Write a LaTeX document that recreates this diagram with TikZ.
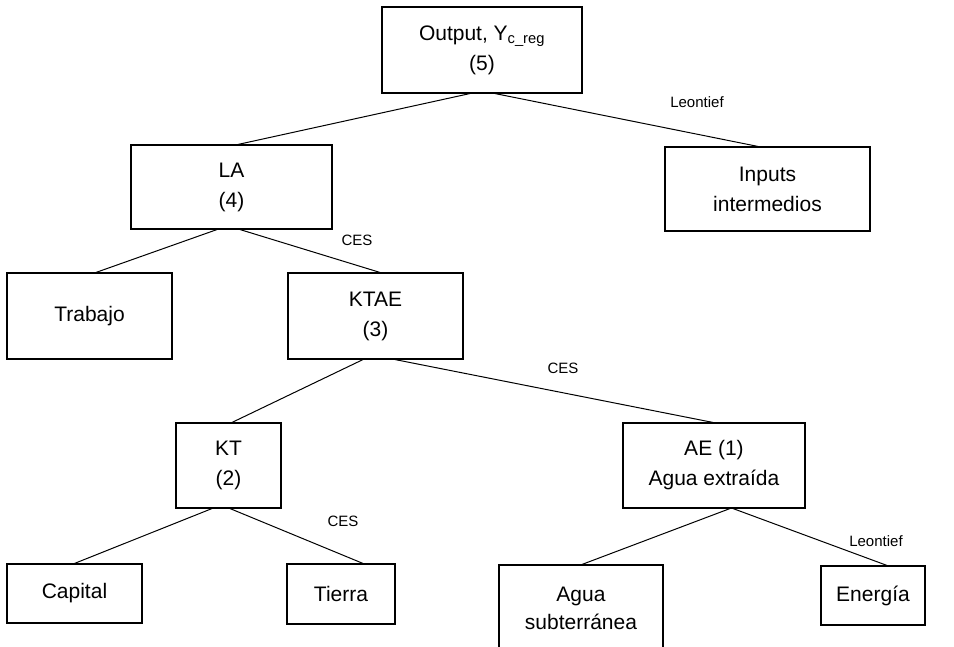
\documentclass[tikz,border=0pt]{standalone}
\usepackage{fontspec}
\setmainfont{Liberation Sans}
\begin{document}
\begin{tikzpicture}[x=1pt,y=-1pt,
  box/.style={draw, line width=1.1pt, rectangle, inner sep=0pt, align=center, font=\fontsize{21}{30}\selectfont},
  link/.style={draw, line width=1pt},
  lab/.style={font=\fontsize{15}{17}\selectfont, inner sep=0pt}]
\useasboundingbox (0,0) rectangle (954,647);
\clip (0,0) rectangle (954,647);
\fill[white] (0,0) rectangle (954,647);
\node[box, minimum width=200pt, minimum height=86pt] (out) at (482,50) {Output, Y\textsubscript{c\_reg}\\(5)};
\node[box, minimum width=201pt, minimum height=84pt] (la) at (231.5,187) {LA\\(4)};
\node[box, minimum width=205pt, minimum height=84pt] (inp) at (767.5,189) {Inputs\\intermedios};
\node[box, minimum width=165pt, minimum height=86pt] (trab) at (89.5,316) {Trabajo};
\node[box, minimum width=175pt, minimum height=86pt] (ktae) at (375.5,316) {KTAE\\(3)};
\node[box, minimum width=105pt, minimum height=85pt] (kt) at (228.5,465.5) {KT\\(2)};
\node[box, minimum width=182pt, minimum height=85pt] (ae) at (714,465.5) {AE (1)\\Agua extraída};
\node[box, minimum width=135pt, minimum height=59pt] (cap) at (74.5,593.5) {Capital};
\node[box, minimum width=108pt, minimum height=60pt] (tie) at (341,594) {Tierra};
\node[box, minimum width=164pt, minimum height=110pt] (agua) at (581,620) {};
\node[font=\fontsize{21}{28}\selectfont, align=center, inner sep=0pt] (agualab) at (581,608) {Agua\\subterránea};
\node[box, minimum width=104pt, minimum height=59pt] (ene) at (873,595.5) {Energía};
\draw[link] ([xshift=-12pt]out.south) -- ([xshift=6.5pt]la.north);
\draw[link] ([xshift=13pt]out.south) -- ([xshift=-9.5pt]inp.north);
\draw[link] ([xshift=-14.5pt]la.south) -- ([xshift=6.5pt]trab.north);
\draw[link] ([xshift=8.5pt]la.south) -- ([xshift=4.5pt]ktae.north);
\draw[link] ([xshift=-12.5pt]ktae.south) -- ([xshift=3.5pt]kt.north);
\draw[link] ([xshift=19.5pt]ktae.south) -- ([xshift=-1pt]ae.north);
\draw[link] ([xshift=-16.5pt]kt.south) -- (cap.north);
\draw[link] ([xshift=1.5pt]kt.south) -- ([xshift=22pt]tie.north);
\draw[link] ([xshift=16pt]ae.south) -- ([xshift=1pt]agua.north);
\draw[link] ([xshift=19pt]ae.south) -- ([xshift=14pt]ene.north);
\node[lab] (l1) at (697,102) {Leontief};
\node[lab] (c1) at (357,240) {CES};
\node[lab] (c2) at (563,368) {CES};
\node[lab] (c3) at (343,521) {CES};
\node[lab] (l2) at (876,541) {Leontief};
\end{tikzpicture}
\end{document}
